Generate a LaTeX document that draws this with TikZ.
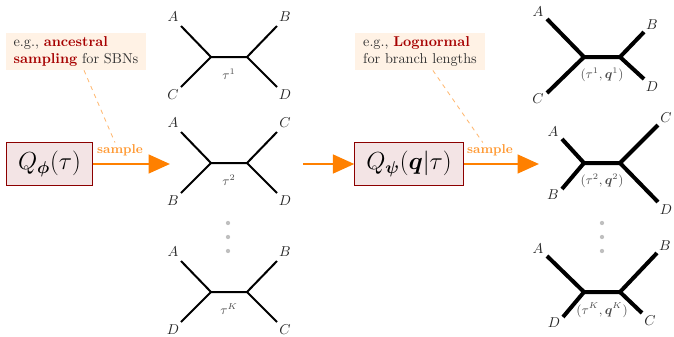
\documentclass[tikz,border=0pt]{standalone}
\usepackage{amsmath, amssymb}
\usepackage[dvipsnames]{xcolor}
\usetikzlibrary{arrows.meta}
\definecolor{qfill}{RGB}{243,228,229}
\newcommand{\keyw}[1]{\textcolor{red!65!black}{\textbf{#1}}}

\begin{document}
\begin{tikzpicture}[x=0.7pt, y=-0.7pt, >=stealth,
  qbox/.style={draw=red!55!black, fill=qfill, line width=0.7pt, inner xsep=8pt, minimum height=30pt, font=\LARGE},
  note/.style={fill=orange!10, align=left, text=black!80, inner xsep=5.5pt, inner ysep=2.5pt},
  flow/.style={draw=orange, line width=2pt, -{Triangle[length=15pt, width=13pt]}},
  samp/.style={text=orange!80, font=\small\bfseries, inner sep=1pt},
  link/.style={draw=orange!55, line width=0.6pt, dashed},
  branch/.style={line width=1.4pt},
  fatbranch/.style={line width=2.8pt},
  leaf/.style={inner sep=0pt, text=black!85},
  treelab/.style={inner sep=0pt, text=black!70, font=\small},
  dot/.style={circle, fill=black!25, inner sep=0pt, minimum size=3pt}]
  \useasboundingbox (0,0) rectangle (674,337);

  % distributions
  \node[qbox] (q1) at (49.5,164) {$Q_{\boldsymbol{\phi}}(\tau)$};
  \node[qbox] (q2) at (409,164) {$Q_{\boldsymbol{\psi}}(\boldsymbol{q}|\tau)$};
  \node[note] (n1) at (76,51.5) {e.g., \keyw{ancestral}\\ \keyw{sampling} for SBNs};
  \node[note] (n2) at (420,51.5) {e.g., \keyw{Lognormal}\\ for branch lengths};

  % sampling arrows
  \coordinate (tip1) at (170,164); \coordinate (from2) at (303,164); \coordinate (tip3) at (539,164);
  \draw[flow] (q1.east) -- (tip1);
  \draw[flow] (from2) -- (q2.west);
  \draw[flow] (q2.east) -- (tip3);
  \node[samp] (smp1) at (120,150) {sample}; \node[samp] (smp2) at (490,150) {sample};
  \draw[link] ([xshift=5.6pt]n1.south) -- ([xshift=-3.5pt]smp1.north);
  \draw[link] ([xshift=9pt]n2.south) -- ([xshift=-5pt]smp2.north);

  % topologies
  \foreach \i/\y/\tA/\tB/\tC/\tD/\t in {1/57/A/C/B/D/1, 2/163/A/B/C/D/2, 3/292/A/D/B/C/K} {
    \coordinate (l\i) at (211,\y); \coordinate (r\i) at (247,\y);
    \coordinate (l\i a) at (181,\y-31); \coordinate (l\i b) at (181,\y+30);
    \coordinate (r\i a) at (277,\y-31); \coordinate (r\i b) at (277,\y+30);
    \draw[branch] (l\i a) -- (l\i) -- (r\i) -- (r\i a); \draw[branch] (l\i b) -- (l\i); \draw[branch] (r\i b) -- (r\i);
    \node[leaf] (x\i a) at ([shift={(-8,-9)}]l\i a) {$\tA$}; \node[leaf] (x\i b) at ([shift={(-8,8)}]l\i b) {$\tB$};
    \node[leaf] (x\i c) at ([shift={(8,-9)}]r\i a) {$\tC$}; \node[leaf] (x\i d) at ([shift={(8,8)}]r\i b) {$\tD$};
    \node[treelab] (t\i) at (229,\y+17) {$\tau^{\t}$};}

  % trees with branch lengths
  \foreach \i/\y/\ax/\ay/\bx/\by/\cx/\cy/\ex/\ey/\tA/\tB/\tC/\tD/\t in
    {1/57/-37/-38/-37/36/24/-25/24/22/A/C/B/D/1, 2/163/-22/-24/-22/26/38/-38/38/39/A/B/C/D/2,
     3/292/-37/-36/-21/25/37/-39/22/21/A/D/B/C/K} {
    \coordinate (L\i) at (584,\y); \coordinate (R\i) at (620,\y);
    \coordinate (L\i a) at (584+\ax,\y+\ay); \coordinate (L\i b) at (584+\bx,\y+\by);
    \coordinate (R\i a) at (620+\cx,\y+\cy); \coordinate (R\i b) at (620+\ex,\y+\ey);
    \draw[fatbranch] (L\i a) -- (L\i) -- (R\i) -- (R\i a); \draw[fatbranch] (L\i b) -- (L\i); \draw[fatbranch] (R\i b) -- (R\i);
    \node[leaf] (X\i a) at ([shift={(-9,-7)}]L\i a) {$\tA$}; \node[leaf] (X\i b) at ([shift={(-9,6)}]L\i b) {$\tB$};
    \node[leaf] (X\i c) at ([shift={(8,-7)}]R\i a) {$\tC$}; \node[leaf] (X\i d) at ([shift={(8,8)}]R\i b) {$\tD$};
    \node[treelab] (T\i) at (602,\y+18) {$(\tau^{\t},\boldsymbol{q}^{\t})$};}

  % more samples
  \foreach \d in {223,237,251} { \node[dot] (u\d) at (228,\d) {}; \node[dot] (v\d) at (602,\d) {}; }
\end{tikzpicture}
\end{document}
